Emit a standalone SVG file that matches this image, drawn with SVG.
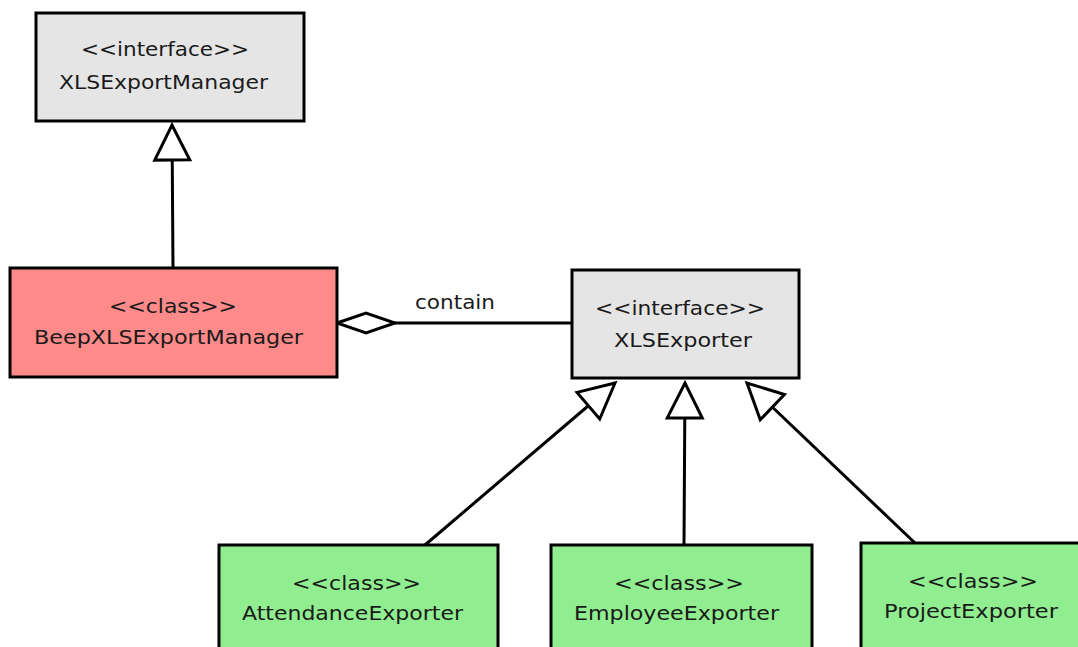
<svg xmlns="http://www.w3.org/2000/svg" width="1078" height="647" viewBox="0 0 1078 647">
<style>
.box{stroke:#000;stroke-width:3}
.iface{fill:#e5e5e5}
.main{fill:#ff8a8a}
.impl{fill:#90ee90}
.t{font-family:"DejaVu Sans","Liberation Sans",sans-serif;font-size:20px;fill:#1a1a1a}
.edge{stroke:#000;stroke-width:3;fill:none}
</style>
<defs>
<marker id="gen" markerUnits="userSpaceOnUse" markerWidth="40" markerHeight="40" refX="35" refY="17.5" orient="auto" overflow="visible">
<path d="M0,0 L35,17.5 L0,35 Z" fill="#fff" stroke="#000" stroke-width="3" stroke-linejoin="miter"/>
</marker>
<marker id="agg" markerUnits="userSpaceOnUse" markerWidth="60" markerHeight="22" refX="0" refY="10" orient="auto" overflow="visible">
<path d="M0,10 L29,0 L58,10 L29,20 Z" fill="#fff" stroke="#000" stroke-width="3"/>
</marker>
</defs>
<rect width="1078" height="647" fill="#fff"/>
<g id="connectors">
<line class="edge" x1="173" y1="268" x2="172" y2="125" marker-end="url(#gen)"/>
<line class="edge" x1="337" y1="323" x2="572" y2="323" marker-start="url(#agg)"/>
<text class="t" x="415" y="309" textLength="80" lengthAdjust="spacingAndGlyphs">contain</text>
<line class="edge" x1="425" y1="545" x2="615" y2="383" marker-end="url(#gen)"/>
<line class="edge" x1="684" y1="545" x2="685" y2="383" marker-end="url(#gen)"/>
<line class="edge" x1="915" y1="543" x2="747" y2="383" marker-end="url(#gen)"/>
</g>
<g id="XLSExportManager">
<rect class="box iface" x="36" y="13" width="268" height="108"/>
<text class="t" x="81" y="56" textLength="168" lengthAdjust="spacingAndGlyphs">&lt;&lt;interface&gt;&gt;</text>
<text class="t" x="59" y="89" textLength="209" lengthAdjust="spacingAndGlyphs">XLSExportManager</text>
</g>
<g id="BeepXLSExportManager">
<rect class="box main" x="10" y="268" width="327" height="109"/>
<text class="t" x="109" y="313" textLength="128" lengthAdjust="spacingAndGlyphs">&lt;&lt;class&gt;&gt;</text>
<text class="t" x="34" y="344" textLength="269" lengthAdjust="spacingAndGlyphs">BeepXLSExportManager</text>
</g>
<g id="XLSExporter">
<rect class="box iface" x="572" y="270" width="227" height="108"/>
<text class="t" x="595" y="315" textLength="170" lengthAdjust="spacingAndGlyphs">&lt;&lt;interface&gt;&gt;</text>
<text class="t" x="614" y="347" textLength="138" lengthAdjust="spacingAndGlyphs">XLSExporter</text>
</g>
<g id="AttendanceExporter">
<rect class="box impl" x="219" y="545" width="279" height="120"/>
<text class="t" x="292" y="590" textLength="129" lengthAdjust="spacingAndGlyphs">&lt;&lt;class&gt;&gt;</text>
<text class="t" x="242" y="620" textLength="221" lengthAdjust="spacingAndGlyphs">AttendanceExporter</text>
</g>
<g id="EmployeeExporter">
<rect class="box impl" x="551" y="545" width="261" height="120"/>
<text class="t" x="614" y="590" textLength="130" lengthAdjust="spacingAndGlyphs">&lt;&lt;class&gt;&gt;</text>
<text class="t" x="574" y="620" textLength="205" lengthAdjust="spacingAndGlyphs">EmployeeExporter</text>
</g>
<g id="ProjectExporter">
<rect class="box impl" x="861" y="543" width="230" height="120"/>
<text class="t" x="908" y="588" textLength="130" lengthAdjust="spacingAndGlyphs">&lt;&lt;class&gt;&gt;</text>
<text class="t" x="884" y="618" textLength="174" lengthAdjust="spacingAndGlyphs">ProjectExporter</text>
</g>
</svg>
